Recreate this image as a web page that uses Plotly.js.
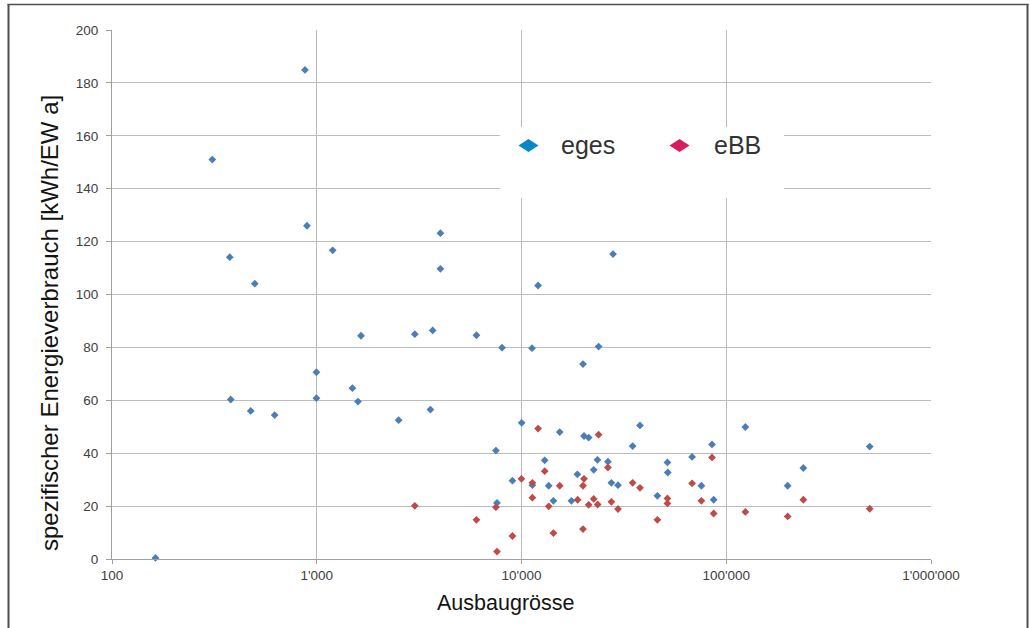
<!DOCTYPE html>
<html>
<head>
<meta charset="utf-8">
<script src="https://cdn.plot.ly/plotly-3.0.1.min.js"></script>
<style>
  html, body { margin: 0; padding: 0; background: #ffffff; }
  #chart { width: 1030px; height: 628px; }
</style>
</head>
<body>
<div id="chart"></div>
<script>
// Ausbaugrösse (EW) and specific energy use (kWh/EW a) per plant
const egesX = [163, 309, 376, 380, 476, 498, 623, 876, 896, 996,
               996, 1196, 1493, 1590, 1645, 2512, 3013, 3590, 3683, 4018,
               4018, 6024, 7500, 7590, 8035, 9030, 10020, 11250, 11300, 12050,
               12980, 13580, 14320, 15370, 17530, 18750, 19970, 20200, 21280, 22530,
               23490, 23800, 26430, 27480, 27990, 29600, 34900, 37900, 46100, 51600,
               51800, 68100, 75600, 85200, 86800, 124000, 199500, 238000, 502000];
const egesY = [0.4, 151, 114.1, 60.3, 56, 104.1, 54.4, 184.9, 126, 70.6,
               60.8, 116.7, 64.6, 59.5, 84.4, 52.5, 85, 56.5, 86.4, 123.2,
               109.7, 84.6, 41, 21.2, 79.9, 29.6, 51.5, 79.7, 27.9, 103.4,
               37.3, 27.7, 22, 48, 22, 32, 73.7, 46.5, 45.9, 33.7,
               37.5, 80.3, 36.8, 28.8, 115.3, 27.9, 42.7, 50.5, 23.9, 36.5,
               32.7, 38.6, 27.7, 43.3, 22.4, 49.9, 27.7, 34.4, 42.5];

const ebbX = [3013, 6024, 7500, 7590, 9030, 9990, 11300, 11300, 12050, 12980,
              13580, 14320, 15370, 18800, 19970, 19970, 20200, 21280, 22530, 23550,
              23800, 26430, 27480, 29600, 34900, 37900, 46100, 51600, 51600, 68100,
              75600, 85200, 86800, 124000, 199500, 238000, 502000];
const ebbY = [20.1, 14.8, 19.6, 2.8, 8.7, 30.3, 28.8, 23.2, 49.3, 33.2,
              19.9, 9.8, 27.7, 22.4, 27.7, 11.3, 30.3, 20.5, 22.7, 20.6,
              47, 34.6, 21.6, 18.9, 28.8, 26.9, 14.8, 22.9, 21, 28.6,
              22, 38.4, 17.2, 17.8, 16.1, 22.4, 19];

const seriesNames = ['eges', 'eBB'];
const xTickVals = [100, 1000, 10000, 100000, 1000000];
const xTickText = ['100', "1'000", "10'000", "100'000", "1'000'000"];
const yTickVals = [0, 20, 40, 60, 80, 100, 120, 140, 160, 180, 200];

const xTitle = 'Ausbaugrösse';
const yTitle = 'spezifischer Energieverbrauch [kWh/EW a]';

// plot frame in pixels
const M = { l: 112, r: 99, t: 30, b: 69 };
const FW = 1030, FH = 628;
const PW = FW - M.l - M.r, PH = FH - M.t - M.b;
const px = v => (v - M.l) / PW;           // pixel x -> paper x
const py = v => (FH - M.b - v) / PH;      // pixel y -> paper y

const font = 'Liberation Sans, Arial, Helvetica, sans-serif';

const traces = [
  {
    type: 'scatter', mode: 'markers', name: seriesNames[0],
    x: egesX, y: egesY, showlegend: false, cliponaxis: false,
    marker: { symbol: 'diamond', size: 6, color: '#4a7ebb', line: { width: 0 } },
    hoverinfo: 'x+y+name'
  },
  {
    type: 'scatter', mode: 'markers', name: seriesNames[1],
    x: ebbX, y: ebbY, showlegend: false, cliponaxis: false,
    marker: { symbol: 'diamond', size: 6, color: '#be4b48', line: { width: 0 } },
    hoverinfo: 'x+y+name'
  }
];

// legend key: white panel with two wide diamonds
function diamond(cx, cy, hw, hh) {
  return 'M' + px(cx - hw) + ',' + py(cy) +
         'L' + px(cx) + ',' + py(cy - hh) +
         'L' + px(cx + hw) + ',' + py(cy) +
         'L' + px(cx) + ',' + py(cy + hh) + 'Z';
}

const shapes = [
  { type: 'rect', xref: 'paper', yref: 'paper', layer: 'above',
    x0: px(500), x1: px(784), y0: py(198), y1: py(127),
    fillcolor: '#ffffff', line: { width: 0 } },
  { type: 'path', xref: 'paper', yref: 'paper', layer: 'above',
    path: diamond(528.5, 145.5, 10, 6.5), fillcolor: '#0a88c4', line: { width: 0 } },
  { type: 'path', xref: 'paper', yref: 'paper', layer: 'above',
    path: diamond(679.5, 145.5, 10, 6.5), fillcolor: '#d81d5c', line: { width: 0 } },
  // outer frame
  { type: 'line', xref: 'paper', yref: 'paper', layer: 'above',
    x0: px(8.5), x1: px(8.5), y0: py(4), y1: py(640),
    line: { color: '#4f4f4f', width: 2 } },
  { type: 'line', xref: 'paper', yref: 'paper', layer: 'above',
    x0: px(7.5), x1: px(1028.5), y0: py(4.5), y1: py(4.5),
    line: { color: '#4f4f4f', width: 1.5 } },
  { type: 'line', xref: 'paper', yref: 'paper', layer: 'above',
    x0: px(1027.5), x1: px(1027.5), y0: py(4), y1: py(640),
    line: { color: '#4f4f4f', width: 2 } }
];

const annotations = [
  { xref: 'paper', yref: 'paper', x: px(559), y: py(145), xanchor: 'left', yanchor: 'middle',
    text: seriesNames[0], showarrow: false, font: { family: font, size: 25, color: '#333333' } },
  { xref: 'paper', yref: 'paper', x: px(711.5), y: py(145), xanchor: 'left', yanchor: 'middle',
    text: seriesNames[1], showarrow: false, font: { family: font, size: 25, color: '#333333' } },
  { xref: 'paper', yref: 'paper', x: px(505), y: py(603), xanchor: 'center', yanchor: 'middle',
    text: xTitle, showarrow: false, font: { family: font, size: 21.5, color: '#141414' } },
  { xref: 'paper', yref: 'paper', x: px(49), y: py(323), xanchor: 'center', yanchor: 'middle',
    textangle: -90, text: yTitle, showarrow: false, font: { family: font, size: 24, color: '#141414' } }
];

const tickFont = { family: font, size: 13.5, color: '#404040' };

const layout = {
  width: FW, height: FH,
  margin: M,
  paper_bgcolor: '#ffffff', plot_bgcolor: '#ffffff',
  showlegend: false,
  xaxis: {
    type: 'log', range: [2, 6],
    tickmode: 'array', tickvals: xTickVals, ticktext: xTickText,
    showgrid: true, gridcolor: '#bcbcbc', gridwidth: 1,
    showline: true, linecolor: '#a0a0a0', linewidth: 1,
    ticks: 'outside', ticklen: 4, tickcolor: '#a0a0a0',
    tickfont: tickFont, zeroline: false, fixedrange: true
  },
  yaxis: {
    range: [0, 200],
    tickmode: 'array', tickvals: yTickVals,
    showgrid: true, gridcolor: '#bcbcbc', gridwidth: 1,
    showline: true, linecolor: '#a0a0a0', linewidth: 1,
    ticks: 'outside', ticklen: 5, tickcolor: '#a0a0a0',
    ticklabelstandoff: 5,
    tickfont: tickFont, zeroline: false, fixedrange: true
  },
  shapes: shapes,
  annotations: annotations
};

Plotly.newPlot('chart', traces, layout, { displayModeBar: false, staticPlot: true });
</script>
</body>
</html>
